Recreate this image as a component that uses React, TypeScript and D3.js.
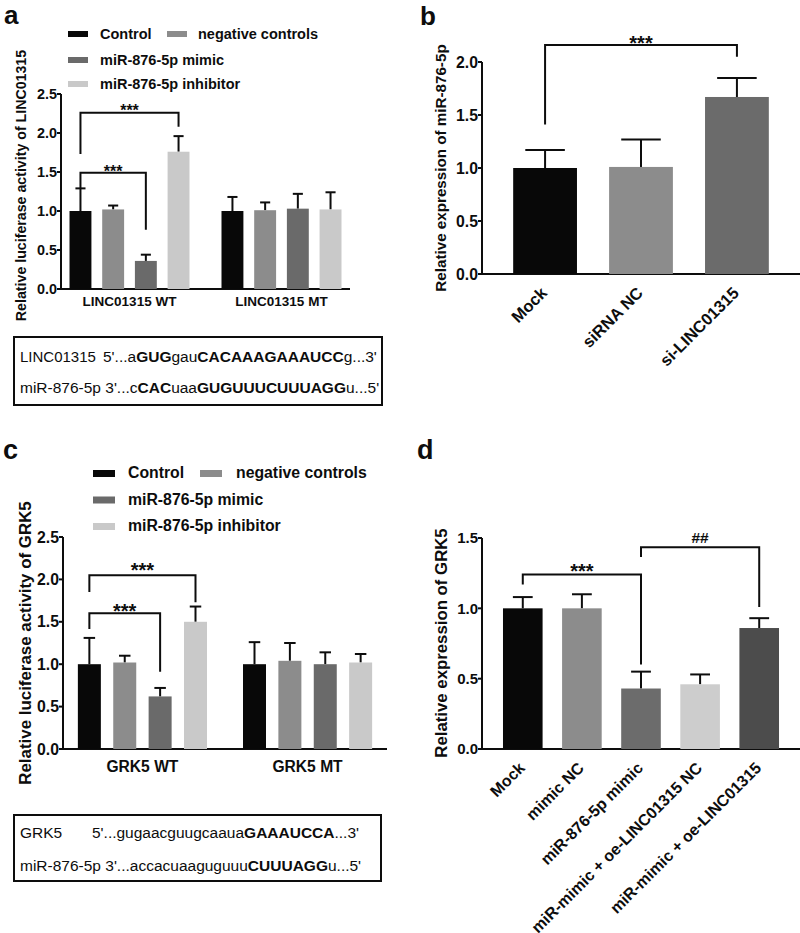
import React from "react";
import * as d3 from "d3";

const FONT = "'Liberation Sans', Arial, Helvetica, sans-serif";
const INK = "#0d0d0d";

// ---------- data ----------
const seriesNames = ["Control", "negative controls", "miR-876-5p mimic", "miR-876-5p inhibitor"];
const seriesColors = ["#080808", "#8c8c8c", "#6a6a6a", "#c9c9c9"];

// panel a
const groupsA = ["LINC01315 WT", "LINC01315 MT"];
const meanA = [[1.0, 1.02, 0.36, 1.76], [1.0, 1.01, 1.03, 1.02]];
const errA = [[0.29, 0.05, 0.08, 0.2], [0.18, 0.1, 0.19, 0.22]];
const bracketsA = [
  { g: 0, from: 0, to: 3, y: 2.26, yFrom: 1.73, yTo: 2.08, label: "***" },
  { g: 0, from: 0, to: 2, y: 1.49, yFrom: 1.29, yTo: 0.76, label: "***" },
];
const ticksA = [0, 0.5, 1.0, 1.5, 2.0, 2.5];

// panel b
const catsB = ["Mock", "siRNA NC", "si-LINC01315"];
const colorsB = ["#080808", "#8c8c8c", "#6b6b6b"];
const meanB = [1.0, 1.01, 1.67];
const errB = [0.17, 0.26, 0.18];
const bracketsB = [{ from: 0, to: 2, y: 2.16, yFrom: 1.41, yTo: 2.05, label: "***" }];
const ticksB = [0, 0.5, 1.0, 1.5, 2.0];

// panel c
const groupsC = ["GRK5 WT", "GRK5 MT"];
const meanC = [[1.0, 1.02, 0.62, 1.5], [1.0, 1.04, 1.0, 1.02]];
const errC = [[0.31, 0.08, 0.1, 0.18], [0.26, 0.21, 0.14, 0.1]];
const bracketsC = [
  { g: 0, from: 0, to: 3, y: 2.05, yFrom: 1.85, yTo: 1.73, label: "***" },
  { g: 0, from: 0, to: 2, y: 1.6, yFrom: 1.415, yTo: 0.91, label: "***" },
];
const ticksC = [0, 0.5, 1.0, 1.5, 2.0, 2.5];

// panel d
const catsD = ["Mock", "mimic NC", "miR-876-5p mimic", "miR-mimic + oe-LINC01315 NC", "miR-mimic + oe-LINC01315"];
const colorsD = ["#080808", "#8c8c8c", "#6c6c6c", "#cdcdcd", "#4c4c4c"];
const meanD = [1.0, 1.0, 0.43, 0.46, 0.86];
const errD = [0.08, 0.1, 0.12, 0.07, 0.07];
const bracketsD = [
  { from: 0, to: 2, y: 1.24, yFrom: 1.17, yTo: 0.6, label: "***" },
  { from: 2, to: 4, y: 1.435, yFrom: 1.365, yTo: 1.01, label: "##" },
];
const ticksD = [0, 0.5, 1.0, 1.5];

// sequences
const seqA1 = [["LINC01315", false]];
const seqA1b = [["5'...a", false], ["GUG", true], ["gau", false], ["CACAAAGAAAUCC", true], ["g...3'", false]];
const seqA2 = [["miR-876-5p 3'...c", false], ["CAC", true], ["uaa", false], ["GUGUUUCUUUAGG", true], ["u...5'", false]];
const seqC1 = [["GRK5", false]];
const seqC1b = [["5'...gugaacguugcaaua", false], ["GAAAUCCA", true], ["...3'", false]];
const seqC2 = [["miR-876-5p 3'...accacuaaguguuu", false], ["CUUUAGG", true], ["u...5'", false]];

// ---------- helpers ----------
const fmt = d3.format(".1f");

function starBaseline(yLine: number, label: string, fs: number, gap: number) {
  if (label.startsWith("*")) return yLine - gap + 0.42 * fs;
  return yLine - gap;
}

function YAxis({ y, ticks, x, fs }: any) {
  const [b, t] = y.range();
  return (
    <g>
      <line x1={x} x2={x} y1={t} y2={b} stroke={INK} strokeWidth={2} />
      {ticks.map((v: number) => (
        <g key={v}>
          <line x1={x - 4} x2={x} y1={y(v)} y2={y(v)} stroke={INK} strokeWidth={2} />
          <text x={x - 4} y={y(v) + 0.36 * fs} textAnchor="end" fontSize={fs} fontWeight="bold" fill={INK}>
            {fmt(v)}
          </text>
        </g>
      ))}
    </g>
  );
}

function Bar({ x, w, y, mean, err, color, capRatio }: any) {
  const cx = x + w / 2;
  const cw = w * capRatio;
  return (
    <g>
      <line x1={cx} x2={cx} y1={y(mean)} y2={y(mean + err)} stroke={INK} strokeWidth={2} />
      <line x1={cx - cw / 2} x2={cx + cw / 2} y1={y(mean + err)} y2={y(mean + err)} stroke={INK} strokeWidth={2} />
      <rect x={x} y={y(mean)} width={w} height={y(0) - y(mean)} fill={color} />
    </g>
  );
}

function Bracket({ x1, x2, y, br, fs, gap }: any) {
  const d = `M${x1},${y(br.yFrom)}V${y(br.y)}H${x2}V${y(br.yTo)}`;
  return (
    <g>
      <path d={d} fill="none" stroke={INK} strokeWidth={2} />
      <text x={(x1 + x2) / 2} y={starBaseline(y(br.y), br.label, fs, gap)} textAnchor="middle" fontSize={fs} fontWeight="bold" fill={INK}>
        {br.label}
      </text>
    </g>
  );
}

function GroupedPanel({ cfg }: any) {
  const y = d3.scaleLinear().domain([0, cfg.yMax]).range([cfg.bottom, cfg.top]);
  const x0 = d3.scaleBand<string>().domain(cfg.groups).range([cfg.left, cfg.right]).paddingInner(cfg.pi).paddingOuter(cfg.po);
  const x1 = d3.scaleBand<string>().domain(seriesNames).range([0, x0.bandwidth()]).paddingInner(cfg.pi1);
  const bw = x1.bandwidth();
  const cxOf = (g: number, s: number) => (x0(cfg.groups[g]) as number) + (x1(seriesNames[s]) as number) + bw / 2;
  const lg = cfg.legend;
  const legendPos = [
    [0, 0],
    [1, 0],
    [0, 1],
    [0, 2],
  ];
  return (
    <g>
      {seriesNames.map((s, i) => {
        const [col, row] = legendPos[i];
        const cy = lg.rows[row];
        return (
          <g key={s}>
            <rect x={lg.sx[col]} y={cy - lg.sh / 2} width={lg.sw} height={lg.sh} fill={seriesColors[i]} />
            <text x={lg.tx[col]} y={cy + 4.5} fontSize={lg.fs} fontWeight="bold" fill={INK}>
              {s}
            </text>
          </g>
        );
      })}
      <YAxis y={y} ticks={cfg.ticks} x={cfg.left} fs={cfg.tickFs} />
      <line x1={cfg.left} x2={cfg.right} y1={cfg.bottom} y2={cfg.bottom} stroke={INK} strokeWidth={2} />
      {cfg.groups.map((g: string, gi: number) =>
        seriesNames.map((s, si) => (
          <Bar
            key={g + s}
            x={(x0(g) as number) + (x1(s) as number)}
            w={bw}
            y={y}
            mean={cfg.mean[gi][si]}
            err={cfg.err[gi][si]}
            color={seriesColors[si]}
            capRatio={cfg.capRatio}
          />
        ))
      )}
      {cfg.groups.map((g: string) => (
        <text key={g} x={(x0(g) as number) + x0.bandwidth() / 2} y={cfg.xLabelY} textAnchor="middle" fontSize={cfg.xFs} fontWeight="bold" fill={INK}>
          {g}
        </text>
      ))}
      {cfg.brackets.map((br: any, i: number) => (
        <Bracket key={i} x1={cxOf(br.g, br.from)} x2={cxOf(br.g, br.to)} y={y} br={br} fs={cfg.starFs} gap={cfg.starGap[i]} />
      ))}
      <text
        transform={`translate(${cfg.yLabelX},${(cfg.top + cfg.bottom) / 2 + cfg.yLabelShift}) rotate(-90)`}
        textAnchor="middle"
        fontSize={cfg.yFs}
        fontWeight="bold"
        fill={INK}
      >
        {cfg.yLabel}
      </text>
    </g>
  );
}

function SimplePanel({ cfg }: any) {
  const y = d3.scaleLinear().domain([0, cfg.yMax]).range([cfg.bottom, cfg.top]);
  const x = d3.scaleBand<string>().domain(cfg.cats).range([cfg.left, cfg.right]).paddingInner(cfg.pi).paddingOuter(cfg.po);
  const bw = x.bandwidth();
  const cx = (i: number) => (x(cfg.cats[i]) as number) + bw / 2;
  return (
    <g>
      <YAxis y={y} ticks={cfg.ticks} x={cfg.left} fs={cfg.tickFs} />
      <line x1={cfg.left} x2={cfg.right} y1={cfg.bottom} y2={cfg.bottom} stroke={INK} strokeWidth={2} />
      {cfg.cats.map((c: string, i: number) => (
        <Bar key={c} x={x(c)} w={bw} y={y} mean={cfg.mean[i]} err={cfg.err[i]} color={cfg.colors[i]} capRatio={cfg.capRatio} />
      ))}
      {cfg.cats.map((c: string, i: number) => (
        <text
          key={c}
          transform={`translate(${cx(i) + 3},${cfg.bottom + 20}) rotate(-45)`}
          textAnchor="end"
          fontSize={cfg.xFs}
          fontWeight="bold"
          fill={INK}
        >
          {c}
        </text>
      ))}
      {cfg.brackets.map((br: any, i: number) => (
        <Bracket key={i} x1={cx(br.from)} x2={cx(br.to)} y={y} br={br} fs={br.label === "##" ? cfg.hashFs : cfg.starFs} gap={cfg.starGap[i]} />
      ))}
      <text
        transform={`translate(${cfg.yLabelX},${cfg.yLabelY}) rotate(-90)`}
        textAnchor="middle"
        fontSize={cfg.yFs}
        fontWeight="bold"
        fill={INK}
      >
        {cfg.yLabel}
      </text>
    </g>
  );
}

function SeqLine({ x, y, parts, fs }: any) {
  return (
    <text x={x} y={y} fontSize={fs} fill={INK}>
      {parts.map((p: any, i: number) => (
        <tspan key={i} fontWeight={p[1] ? "bold" : "normal"}>
          {p[0]}
        </tspan>
      ))}
    </text>
  );
}

export default function App() {
  const cfgA = {
    groups: groupsA, mean: meanA, err: errA, brackets: bracketsA, ticks: ticksA, yMax: 2.5,
    left: 61, right: 350, bottom: 289, top: 94, pi: 0.2105, po: 0.056, pi1: 0.33, capRatio: 0.46,
    tickFs: 14.4, xFs: 13.5, xLabelY: 306, starFs: 16, starGap: [3, 3],
    yLabel: "Relative luciferase activity of LINC01315", yLabelX: 26, yLabelShift: -6, yFs: 14.2,
    legend: { sx: [68, 167], tx: [100, 198], rows: [34, 60, 84], sw: 20, sh: 6, fs: 14.5 },
  };
  const cfgC = {
    groups: groupsC, mean: meanC, err: errC, brackets: bracketsC, ticks: ticksC, yMax: 2.5,
    left: 63, right: 387, bottom: 749, top: 537, pi: 0.218, po: 0.09, pi1: 0.35, capRatio: 0.5,
    tickFs: 15.8, xFs: 15.6, xLabelY: 772, starFs: 20, starGap: [7, 4],
    yLabel: "Relative luciferase activity of GRK5", yLabelX: 31, yLabelShift: 0, yFs: 16.9,
    legend: { sx: [93, 200], tx: [128, 236], rows: [473.5, 500, 526.5], sw: 22, sh: 7, fs: 15.8 },
  };
  const cfgB = {
    cats: catsB, colors: colorsB, mean: meanB, err: errB, brackets: bracketsB, ticks: ticksB, yMax: 2.0,
    left: 482, right: 800, bottom: 274, top: 62, pi: 0.335, po: 0.325, capRatio: 0.62,
    tickFs: 15.8, xFs: 16.5, starFs: 20, hashFs: 15, starGap: [3],
    yLabel: "Relative expression of miR-876-5p", yLabelX: 446, yLabelY: 168, yFs: 15.2,
  };
  const cfgD = {
    cats: catsD, colors: colorsD, mean: meanD, err: errD, brackets: bracketsD, ticks: ticksD, yMax: 1.5,
    left: 482, right: 800, bottom: 749, top: 538, pi: 0.33, po: 0.355, capRatio: 0.5,
    tickFs: 15, xFs: 16, starFs: 20, hashFs: 15.5, starGap: [5, 4],
    yLabel: "Relative expression of GRK5", yLabelX: 447, yLabelY: 643, yFs: 16.8,
  };
  return (
    <svg
      width={800}
      height={933}
      viewBox="0 0 800 933"
      style={{ position: "absolute", left: 0, top: 0, background: "#fff" }}
      fontFamily={FONT}
    >
      <rect x={0} y={0} width={800} height={933} fill="#fff" />
      <text x={4} y={24} fontSize={26} fontWeight="bold" fill={INK}>a</text>
      <text x={420} y={25} fontSize={26} fontWeight="bold" fill={INK}>b</text>
      <text x={3} y={459} fontSize={27} fontWeight="bold" fill={INK}>c</text>
      <text x={417} y={459} fontSize={27} fontWeight="bold" fill={INK}>d</text>

      <GroupedPanel cfg={cfgA} />
      <SimplePanel cfg={cfgB} />
      <GroupedPanel cfg={cfgC} />
      <SimplePanel cfg={cfgD} />

      {/* sequence box a */}
      <rect x={14} y={337} width={368} height={68} fill="none" stroke={INK} strokeWidth={2} />
      <SeqLine x={20} y={362} parts={seqA1} fs={15} />
      <SeqLine x={103} y={362} parts={seqA1b} fs={15.5} />
      <SeqLine x={20} y={393} parts={seqA2} fs={15.5} />

      {/* sequence box c */}
      <rect x={14} y={815} width={367} height={66} fill="none" stroke={INK} strokeWidth={2} />
      <SeqLine x={20} y={838} parts={seqC1} fs={15.5} />
      <SeqLine x={92} y={838} parts={seqC1b} fs={15.5} />
      <SeqLine x={20} y={871} parts={seqC2} fs={15.5} />
    </svg>
  );
}
